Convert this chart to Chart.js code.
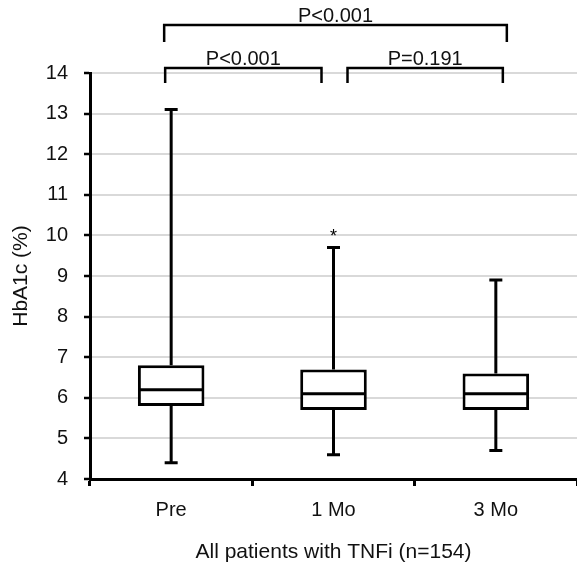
<!DOCTYPE html>
<html lang="en">
<head>
  <meta charset="UTF-8" />
  <title>HbA1c box plot</title>
  <script src="https://cdn.jsdelivr.net/npm/chart.js"></script>
  <style>
    html, body { margin: 0; padding: 0; background: #fff; }
    #wrap { width: 577px; height: 567px; }
  </style>
</head>
<body>
  <div id="wrap"><canvas id="graphique" width="577" height="567"></canvas></div>

  <script>
    // values
    const categories = ['Pre', '1 Mo', '3 Mo'];
    const whiskerMin = [4.4, 4.6, 4.7];
    const q1 = [5.8, 5.7, 5.7];
    const median = [6.2, 6.1, 6.1];
    const q3 = [6.8, 6.7, 6.6];
    const whiskerMax = [13.1, 9.7, 8.9];
    const outliers = [[], [10.1], []];

    // comparisons: from index, to index, label, level (0 = lower row)
    const compFrom = [0, 1, 0];
    const compTo = [1, 2, 2];
    const compLabel = ['P<0.001', 'P=0.191', 'P<0.001'];
    const compLevel = [0, 0, 1];

    const yTicks = [4, 5, 6, 7, 8, 9, 10, 11, 12, 13, 14];

    const FONT = 'Liberation Sans, Arial, sans-serif';
    const INK = '#000';

    const boxPlot = {
      id: 'boxPlot',
      afterDatasetsDraw(chart) {
        const ctx = chart.ctx;
        const x = chart.scales.x, y = chart.scales.y;
        const meta = chart.getDatasetMeta(0);
        ctx.save();
        ctx.strokeStyle = INK;
        ctx.lineWidth = 3;
        ctx.lineCap = 'butt';
        categories.forEach((c, i) => {
          const cx = x.getPixelForValue(i);
          const bar = meta.data[i];
          const half = bar.width / 2;
          // whiskers
          ctx.beginPath();
          ctx.moveTo(cx, y.getPixelForValue(q3[i]));
          ctx.lineTo(cx, y.getPixelForValue(whiskerMax[i]));
          ctx.moveTo(cx, y.getPixelForValue(q1[i]));
          ctx.lineTo(cx, y.getPixelForValue(whiskerMin[i]));
          ctx.stroke();
          // caps
          ctx.beginPath();
          ctx.moveTo(cx - 6.5, y.getPixelForValue(whiskerMax[i]));
          ctx.lineTo(cx + 6.5, y.getPixelForValue(whiskerMax[i]));
          ctx.moveTo(cx - 6.5, y.getPixelForValue(whiskerMin[i]));
          ctx.lineTo(cx + 6.5, y.getPixelForValue(whiskerMin[i]));
          ctx.stroke();
          // median
          ctx.beginPath();
          ctx.moveTo(cx - half + 1, y.getPixelForValue(median[i]));
          ctx.lineTo(cx + half - 1, y.getPixelForValue(median[i]));
          ctx.stroke();
          // outliers
          ctx.fillStyle = INK;
          ctx.font = '18px ' + FONT;
          ctx.textAlign = 'center';
          ctx.textBaseline = 'alphabetic';
          outliers[i].forEach(v => {
            ctx.fillText('*', cx, y.getPixelForValue(v) + 11);
          });
        });
        ctx.restore();
      },
      afterDraw(chart) {
        const ctx = chart.ctx;
        const x = chart.scales.x;
        const top = chart.chartArea.top;
        ctx.save();
        ctx.strokeStyle = INK;
        ctx.fillStyle = '#111';
        ctx.lineWidth = 2.5;
        ctx.font = '20px ' + FONT;
        ctx.textAlign = 'center';
        ctx.textBaseline = 'alphabetic';
        compLabel.forEach((lab, k) => {
          const lvl = compLevel[k];
          const yh = lvl === 0 ? top - 5 : top - 48;
          const drop = lvl === 0 ? 15 : 17;
          let x1 = x.getPixelForValue(compFrom[k]);
          let x2 = x.getPixelForValue(compTo[k]);
          if (lvl === 0) {
            x1 += compFrom[k] === 0 ? -6 : 14;
            x2 += compTo[k] === 2 ? 7 : -12;
          } else {
            x1 -= 7;
            x2 += 11;
          }
          ctx.beginPath();
          ctx.moveTo(x1, yh + drop);
          ctx.lineTo(x1, yh);
          ctx.lineTo(x2, yh);
          ctx.lineTo(x2, yh + drop);
          ctx.stroke();
          ctx.fillText(lab, (x1 + x2) / 2, yh - 3);
        });
        ctx.restore();
      }
    };

    const ctx = document.getElementById('graphique').getContext('2d');

    new Chart(ctx, {
      type: 'bar',
      data: {
        labels: categories,
        datasets: [{
          label: 'HbA1c',
          data: q1.map((v, i) => [v, q3[i]]),
          backgroundColor: '#fff',
          borderColor: INK,
          borderWidth: 3,
          borderSkipped: false,
          barPercentage: 0.41,
          categoryPercentage: 1
        }]
      },
      options: {
        responsive: false,
        animation: false,
        layout: { padding: { top: 73, right: 0, bottom: 2, left: 0 } },
        plugins: {
          legend: { display: false },
          tooltip: { enabled: false }
        },
        scales: {
          x: {
            offset: true,
            afterFit(scale) { scale.height = 86; },
            grid: {
              offset: true,
              drawOnChartArea: false,
              tickLength: 7,
              tickColor: INK,
              tickWidth: 3
            },
            border: { color: INK, width: 3 },
            ticks: { color: '#111', font: { family: FONT, size: 20 }, padding: 12 },
            title: {
              display: true,
              text: 'All patients with TNFi (n=154)',
              color: '#111',
              font: { family: FONT, size: 21 },
              padding: { top: 8, bottom: 0 }
            }
          },
          y: {
            min: 4,
            max: 14,
            afterFit(scale) { scale.width = 90; },
            afterBuildTicks(scale) {
              const t = [];
              for (let v = 4; v <= 14.001; v += 0.5) t.push({ value: v });
              scale.ticks = t;
            },
            grid: {
              color: c => (yTicks.includes(c.tick.value) && c.tick.value !== 4) ? '#d9d9d9' : 'rgba(0,0,0,0)',
              lineWidth: 2,
              tickColor: INK,
              tickWidth: 2.5,
              tickLength: 6
            },
            border: { color: INK, width: 3 },
            ticks: {
              color: '#111',
              font: { family: FONT, size: 20 },
              padding: 16,
              callback: v => yTicks.includes(v) ? String(v) : ''
            },
            title: {
              display: true,
              text: 'HbA1c (%)',
              color: '#111',
              font: { family: FONT, size: 21 },
              padding: { top: 9, bottom: 0 }
            }
          }
        }
      },
      plugins: [boxPlot]
    });
  </script>
</body>
</html>
